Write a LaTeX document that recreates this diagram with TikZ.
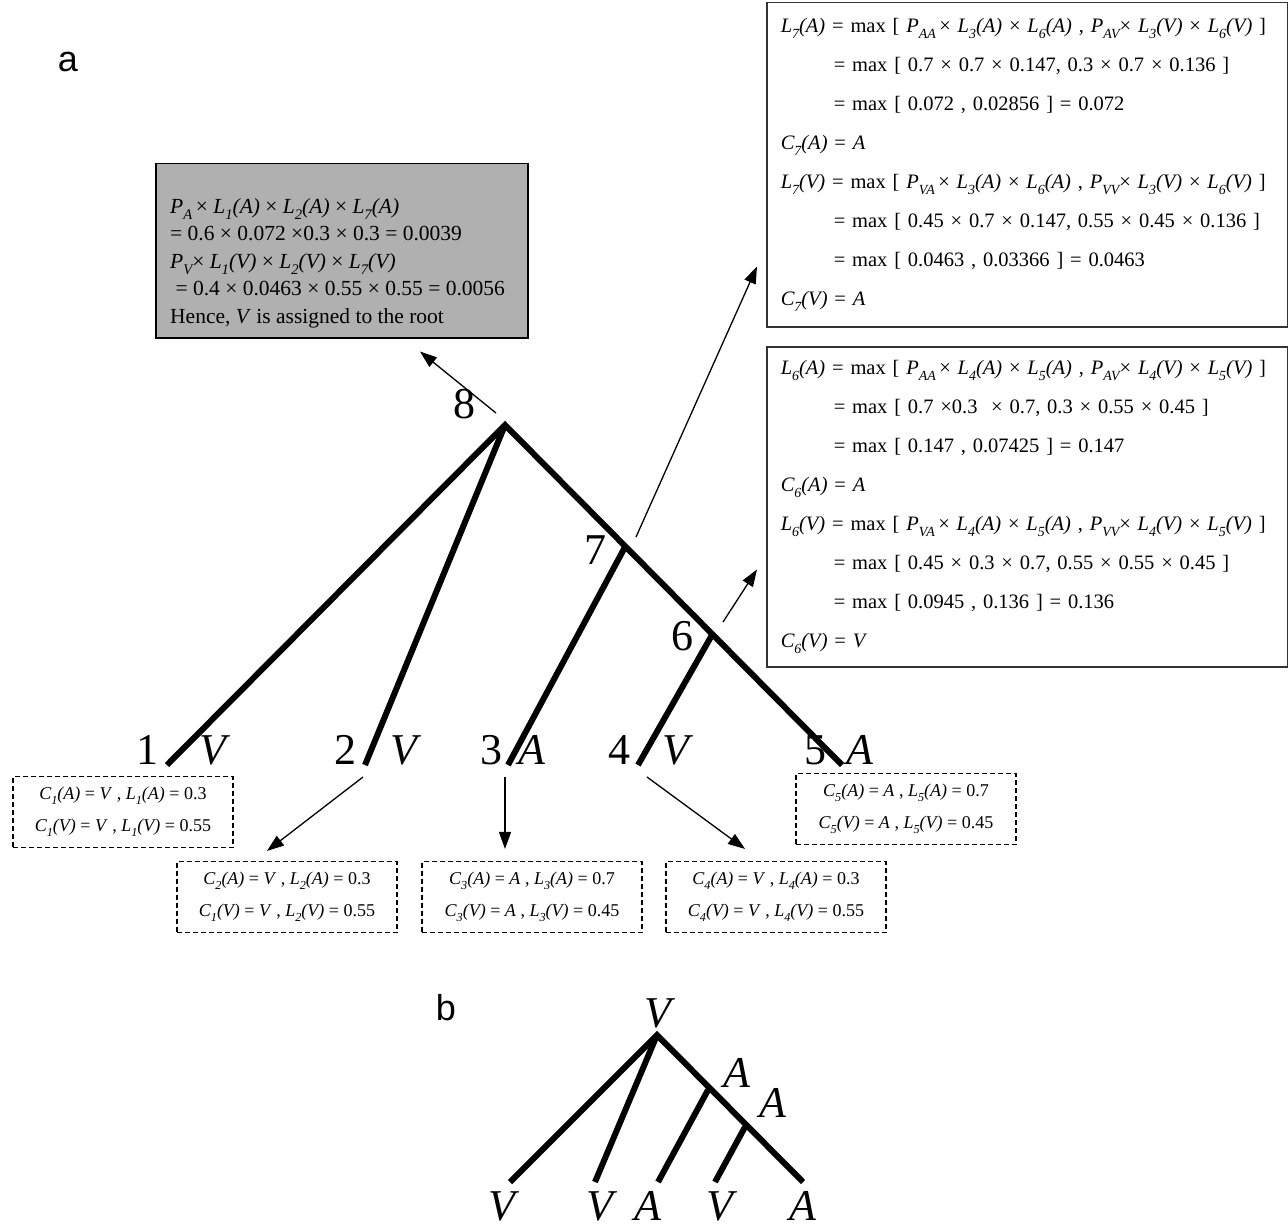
\documentclass[tikz,border=0pt]{standalone}
\usepackage{fontspec}
\setmainfont{Liberation Serif}
\newfontfamily\labfont{Liberation Sans}
\usetikzlibrary{arrows.meta}
\makeatletter
\newcommand\sbs[1]{\raisebox{-0.28em}{\fontsize{0.68\dimexpr\f@size pt\relax}{1pt}\selectfont #1}}
\makeatother
\newcommand\Lx[3]{\textit{#1\sbs{#2}(#3)}}
\newcommand\Px[1]{\textit{P\sbs{#1}}}
\newcommand\eqln[1]{\makebox[493pt][l]{#1}}
\begin{document}
\begin{tikzpicture}[x=1pt,y=-1pt,
  branch/.style={line width=6pt, line join=miter},
  ptr/.style={line width=1.3pt, -{Triangle[length=17pt,width=12pt]}},
  bigbox/.style={draw=black!80, line width=1.5pt, anchor=north west, inner xsep=14pt, inner ysep=0pt,
     align=left, font=\fontsize{20.5}{39}\selectfont},
  dbox/.style={draw, line width=1.1pt, dash pattern=on 5pt off 3pt, minimum width=220pt,
     minimum height=71pt, align=center, inner sep=0pt, font=\fontsize{18}{32}\selectfont},
  num/.style={font=\fontsize{44}{44}\selectfont, inner sep=0pt},
  lab/.style={font=\fontsize{44}{44}\selectfont\itshape, inner sep=0pt},
  panel/.style={font=\labfont\fontsize{36}{36}\selectfont, inner sep=0pt}]
\useasboundingbox (0,0) rectangle (1288,1228);

% panel labels
\node[panel] (pa) at (68,62) {a};
\node[panel] (pb) at (446,1008) {b};

% ---- tree a ----
\coordinate (n8) at (505,425);
\coordinate (n7) at (625,547);
\coordinate (n6) at (712,635);
\coordinate (l1) at (167,765);
\coordinate (l2) at (365,765);
\coordinate (l3) at (508,765);
\coordinate (l4) at (638,765);
\coordinate (l5) at (842,765);
\draw[branch] (l1) -- (n8) -- (l5);
\draw[branch] (l2) -- (n8);
\draw[branch] (l3) -- (n7);
\draw[branch] (l4) -- (n6);

\node[num] (t8) at (464,404) {8};
\node[num] (t7) at (595,550) {7};
\node[num] (t6) at (682,636) {6};
\node[num] (t1) at (147,750) {1};
\node[lab] (v1) at (213,750) {V};
\node[num] (t2) at (345,750) {2};
\node[lab] (v2) at (404,750) {V};
\node[num] (t3) at (491,750) {3};
\node[lab] (v3) at (532,750) {A};
\node[num] (t4) at (619,750) {4};
\node[lab] (v4) at (676,750) {V};
\node[num] (t5) at (815,750) {5};
\node[lab] (v5) at (860,750) {A};

% ---- grey box ----
\node[draw=black, line width=1.5pt, fill={rgb,255:red,176;green,176;blue,176},
      minimum width=372pt, minimum height=174pt, anchor=north west, inner sep=0pt] (gbox) at (155,163) {};
\node[anchor=north west, align=left, inner sep=0pt, font=\fontsize{21.5}{27.5}\selectfont] (gtext) at (170,198) {%
\Px{A}\,× \Lx{L}{1}{A} × \Lx{L}{2}{A} × \Lx{L}{7}{A}\\
= 0.6 × 0.072 ×0.3 × 0.3 = 0.0039\\
\Px{V}× \Lx{L}{1}{V} × \Lx{L}{2}{V} × \Lx{L}{7}{V}\\
\ = 0.4 × 0.0463 × 0.55 × 0.55 = 0.0056\\
Hence, \textit{V} is assigned to the root};

% ---- box for node 7 ----
\node[bigbox, minimum width=521pt, minimum height=324pt, text width=493pt] (box7) at (766,2) {%
\eqln{\Lx{L}{7}{A} = max [ \Px{AA}\,× \Lx{L}{3}{A} × \Lx{L}{6}{A} , \Px{AV}× \Lx{L}{3}{V} × \Lx{L}{6}{V} ]}\\
\eqln{\hspace*{53pt}= max [ 0.7 × 0.7 × 0.147, 0.3 × 0.7 × 0.136 ]}\\
\eqln{\hspace*{53pt}= max [ 0.072 , 0.02856 ] = 0.072}\\
\eqln{\Lx{C}{7}{A} = \textit{A}}\\
\eqln{\Lx{L}{7}{V} = max [ \Px{VA}\,× \Lx{L}{3}{A} × \Lx{L}{6}{A} , \Px{VV}× \Lx{L}{3}{V} × \Lx{L}{6}{V} ]}\\
\eqln{\hspace*{53pt}= max [ 0.45 × 0.7 × 0.147, 0.55 × 0.45 × 0.136 ]}\\
\eqln{\hspace*{53pt}= max [ 0.0463 , 0.03366 ] = 0.0463}\\
\eqln{\Lx{C}{7}{V} = \textit{A}}};

% ---- box for node 6 ----
\node[bigbox, minimum width=521pt, minimum height=320pt, text width=493pt] (box6) at (766,346) {%
\eqln{\Lx{L}{6}{A} = max [ \Px{AA}\,× \Lx{L}{4}{A} × \Lx{L}{5}{A} , \Px{AV}× \Lx{L}{4}{V} × \Lx{L}{5}{V} ]}\\
\eqln{\hspace*{53pt}= max [ 0.7 ×0.3 \ × 0.7, 0.3 × 0.55 × 0.45 ]}\\
\eqln{\hspace*{53pt}= max [ 0.147 , 0.07425 ] = 0.147}\\
\eqln{\Lx{C}{6}{A} = \textit{A}}\\
\eqln{\Lx{L}{6}{V} = max [ \Px{VA}\,× \Lx{L}{4}{A} × \Lx{L}{5}{A} , \Px{VV}× \Lx{L}{4}{V} × \Lx{L}{5}{V} ]}\\
\eqln{\hspace*{53pt}= max [ 0.45 × 0.3 × 0.7, 0.55 × 0.55 × 0.45 ]}\\
\eqln{\hspace*{53pt}= max [ 0.0945 , 0.136 ] = 0.136}\\
\eqln{\Lx{C}{6}{V} = \textit{V}}};

% ---- leaf boxes ----
\node[dbox] (box1) at (123,812) {\Lx{C}{1}{A} = \textit{V} , \Lx{L}{1}{A} = 0.3\\ \Lx{C}{1}{V} = \textit{V} , \Lx{L}{1}{V} = 0.55};
\node[dbox] (box2) at (287,897) {\Lx{C}{2}{A} = \textit{V} , \Lx{L}{2}{A} = 0.3\\ \Lx{C}{1}{V} = \textit{V} , \Lx{L}{2}{V} = 0.55};
\node[dbox] (box3) at (532,897) {\Lx{C}{3}{A} = \textit{A} , \Lx{L}{3}{A} = 0.7\\ \Lx{C}{3}{V} = \textit{A} , \Lx{L}{3}{V} = 0.45};
\node[dbox] (box4) at (776,897) {\Lx{C}{4}{A} = \textit{V} , \Lx{L}{4}{A} = 0.3\\ \Lx{C}{4}{V} = \textit{V} , \Lx{L}{4}{V} = 0.55};
\node[dbox] (box5) at (906,809) {\Lx{C}{5}{A} = \textit{A} , \Lx{L}{5}{A} = 0.7\\ \Lx{C}{5}{V} = \textit{A} , \Lx{L}{5}{V} = 0.45};

% ---- pointer arrows ----
\coordinate (s8) at (496,413);
\coordinate (s7) at (636,537);
\coordinate (s6) at (723,622);
\coordinate (s2) at (363,777);
\coordinate (s3) at (505,777);
\coordinate (s4) at (647,777);
\draw[ptr] (s8) -- ([xshift=265pt,yshift=-13pt]gbox.south west);
\draw[ptr] (s7) -- ([xshift=-9pt,yshift=61pt]box7.south west);
\draw[ptr] (s6) -- ([xshift=-9pt,yshift=98pt]box6.south west);
\draw[ptr] (s2) -- ([xshift=-20pt,yshift=10pt]box2.north);
\draw[ptr] (s3) -- ([xshift=-27pt,yshift=12pt]box3.north);
\draw[ptr] (s4) -- ([xshift=-31pt,yshift=12pt]box4.north);

% ---- tree b ----
\coordinate (r) at (657,1035);
\coordinate (ia) at (708,1090);
\coordinate (ib) at (745,1127);
\coordinate (m1) at (510,1182);
\coordinate (m2) at (595,1182);
\coordinate (m3) at (658,1182);
\coordinate (m4) at (715,1182);
\coordinate (m5) at (803,1182);
\draw[branch] (m1) -- (r) -- (m5);
\draw[branch] (m2) -- (r);
\draw[branch] (m3) -- (ia);
\draw[branch] (m4) -- (ib);
\node[lab] (br) at (658,1013) {V};
\node[lab] (ba) at (737,1073) {A};
\node[lab] (bb) at (773,1103) {A};
\node[lab] (b1) at (502,1206) {V};
\node[lab] (b2) at (600,1206) {V};
\node[lab] (b3) at (648,1206) {A};
\node[lab] (b4) at (720,1206) {V};
\node[lab] (b5) at (803,1206) {A};
\end{tikzpicture}
\end{document}
